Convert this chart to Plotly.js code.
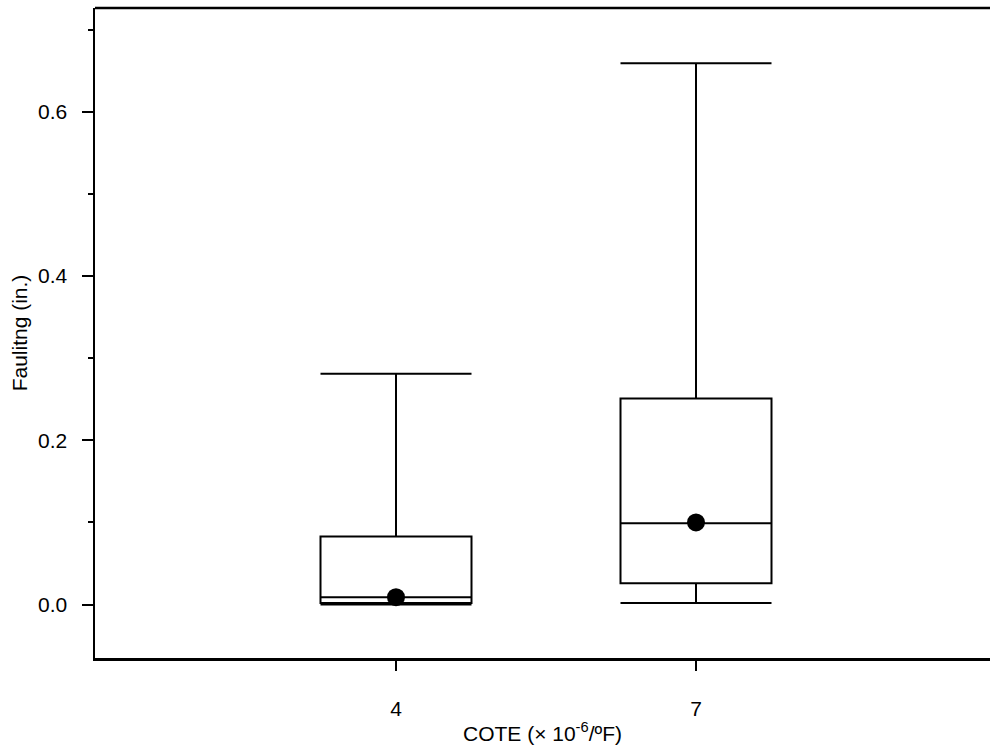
<!DOCTYPE html>
<html>
<head>
<meta charset="utf-8">
<script src="https://cdn.plot.ly/plotly-3.0.1.min.js"></script>
<style>html,body{margin:0;padding:0;background:#fff;}#chart{width:990px;height:755px;}</style>
</head>
<body>
<div id="chart"></div>
<script>
const categories = [4, 7];
const tickLabels = ['4', '7'];
const lowerWhisker = [0.0, 0.002];
const q1 = [0.002, 0.026];
const median = [0.009, 0.099];
const q3 = [0.083, 0.251];
const upperWhisker = [0.281, 0.659];
const means = [0.009, 0.100];

const font = {family: '"Liberation Sans", Arial, sans-serif', size: 21, color: '#000'};

const traces = [
  {
    type: 'box',
    x: categories,
    q1: q1,
    median: median,
    q3: q3,
    lowerfence: lowerWhisker,
    upperfence: upperWhisker,
    width: 1.51,
    whiskerwidth: 1,
    boxpoints: false,
    line: {color: '#000', width: 2},
    fillcolor: 'rgba(0,0,0,0)',
    hoverinfo: 'skip',
    showlegend: false
  },
  {
    type: 'scatter',
    mode: 'markers',
    x: categories,
    y: means,
    marker: {color: '#000', size: 18},
    hoverinfo: 'skip',
    showlegend: false
  }
];

const layout = {
  width: 990,
  height: 755,
  margin: {l: 95, r: 0, t: 8, b: 97},
  paper_bgcolor: '#fff',
  plot_bgcolor: '#fff',
  font: font,
  showlegend: false,
  xaxis: {
    range: [0.99, 9.94],
    tickvals: categories,
    ticktext: tickLabels,
    ticks: 'outside',
    ticklen: 10,
    tickwidth: 2,
    tickcolor: '#000',
    showline: true,
    linewidth: 2.5,
    linecolor: '#000',
    showgrid: false,
    zeroline: false,
    ticklabelstandoff: 20,
    title: {text: 'COTE (× 10<sup>-6</sup>/ºF)', font: font, standoff: 8},
    automargin: false
  },
  yaxis: {
    range: [-0.065, 0.7262],
    tick0: 0,
    dtick: 0.2,
    tickformat: '.1f',
    ticks: 'outside',
    ticklen: 11,
    tickwidth: 2,
    tickcolor: '#000',
    minor: {dtick: 0.1, tick0: 0, ticks: 'outside', ticklen: 5, tickwidth: 2, tickcolor: '#000', showgrid: false},
    showline: true,
    linewidth: 2.5,
    linecolor: '#000',
    showgrid: false,
    zeroline: false,
    ticklabelstandoff: 10,
    title: {text: 'Faulitng (in.)', font: font, standoff: 5},
    automargin: false
  },
  shapes: [
    {type: 'line', xref: 'paper', yref: 'paper', x0: 0, x1: 1, y0: 1, y1: 1, line: {color: '#000', width: 2.5}}
  ]
};

Plotly.newPlot('chart', traces, layout, {displayModeBar: false, staticPlot: true});
</script>
</body>
</html>
